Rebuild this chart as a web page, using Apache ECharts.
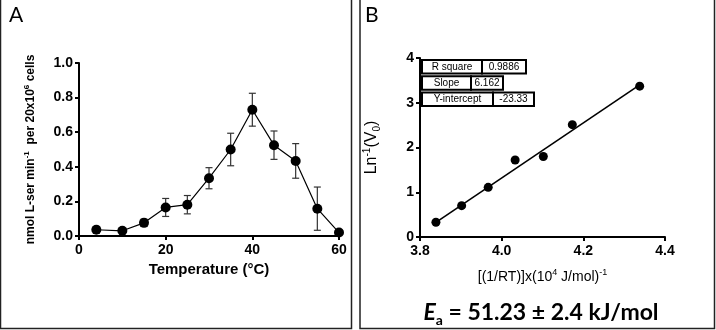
<!DOCTYPE html>
<html>
<head>
<meta charset="utf-8">
<script src="https://cdn.jsdelivr.net/npm/echarts@6/dist/echarts.min.js"></script>
<style>
  html, body { margin: 0; padding: 0; background: #fff; }
  #chart { width: 716px; height: 330px; }
</style>
</head>
<body>
<div id="chart"></div>
<script>
// panel A: rate vs temperature
let temps = [4, 10, 15, 20, 25, 30, 35, 40, 45, 50, 55, 60];
let rates = [0.036, 0.03, 0.076, 0.165, 0.181, 0.334, 0.50, 0.73, 0.525, 0.434, 0.158, 0.02];
let rateErr = [0.019, 0, 0.021, 0.052, 0.053, 0.061, 0.094, 0.095, 0.082, 0.10, 0.125, 0];

// panel B: arrhenius plot
let invRT = [3.839, 3.902, 3.967, 4.033, 4.102, 4.173, 4.338];
let lnV = [0.33, 0.70, 1.11, 1.72, 1.80, 2.51, 3.37];
let fitLabels = ['R square', 'Slope', 'Y-intercept'];
let fitValues = ['0.9886', '6.162', '-23.33'];
let slope = 6.162;
let intercept = -23.33;
let eaText = ' = 51.23 ± 2.4 kJ/mol';

let myChart = echarts.init(document.getElementById('chart'));

let pointsA = temps.map(function (t, i) { return [t, rates[i]]; });
let errA = temps.map(function (t, i) { return [t, rates[i], rateErr[i]]; });
let pointsB = invRT.map(function (x, i) { return [x, lnV[i]]; });
let xFirst = invRT[0], xLast = invRT[invRT.length - 1];
let fitLine = [[xFirst, slope * xFirst + intercept], [xLast, slope * xLast + intercept]];

let axisBase = {
  axisLine: { onZero: false, lineStyle: { color: '#000', width: 2 } },
  axisTick: { length: 4, lineStyle: { color: '#000', width: 2 } },
  splitLine: { show: false }
};
let tickFont = { color: '#000', fontFamily: 'Liberation Sans', fontWeight: 'bold', fontSize: 14 };

// table cells next to the y axis of B (label width, value width)
let cellW = [[60, 44], [49, 32], [71, 41]];
let tableGraphics = [];
let rowTop = 60;
for (let i = 0; i < fitLabels.length; i++) {
  let x0 = 422, w1 = cellW[i][0], w2 = cellW[i][1], h = 13.5;
  tableGraphics.push(
    { type: 'rect', shape: { x: x0, y: rowTop, width: w1, height: h }, style: { fill: '#fff', stroke: '#000', lineWidth: 2 }, z: 10 },
    { type: 'rect', shape: { x: x0 + w1, y: rowTop, width: w2, height: h }, style: { fill: '#fff', stroke: '#000', lineWidth: 2 }, z: 10 },
    { type: 'text', x: x0 + w1 / 2, y: rowTop + h / 2, z: 11,
      style: { text: fitLabels[i], align: 'center', verticalAlign: 'middle', fontFamily: 'Liberation Sans', fontSize: 10, fill: '#000' } },
    { type: 'text', x: x0 + w1 + w2 / 2, y: rowTop + h / 2, z: 11,
      style: { text: fitValues[i], align: 'center', verticalAlign: 'middle', fontFamily: 'Liberation Sans', fontSize: 10, fill: '#000' } }
  );
  rowTop += 16.3;
}

let option = {
  backgroundColor: '#fff',
  animation: false,
  grid: [
    { left: 79, top: 63, width: 260, height: 173 },
    { left: 420, top: 58, width: 245, height: 179 }
  ],
  xAxis: [
    Object.assign({}, axisBase, {
      gridIndex: 0, type: 'value', min: 0, max: 60, interval: 20,
      axisLabel: Object.assign({ margin: 7 }, tickFont),
      name: 'Temperature (°C)', nameLocation: 'middle', nameGap: 26,
      nameTextStyle: { color: '#000', fontFamily: 'Liberation Sans', fontWeight: 'bold', fontSize: 15 }
    }),
    Object.assign({}, axisBase, {
      gridIndex: 1, type: 'value', min: 3.8, max: 4.4, interval: 0.2,
      axisLabel: Object.assign({ margin: 7, formatter: function (v) { return v.toFixed(1); } }, tickFont),
      name: '{n|[(1/RT)]x(10}{sup|4}{n| J/mol)}{sup|-1}', nameLocation: 'middle', nameGap: 31,
      nameTextStyle: {
        rich: {
          n: { color: '#000', fontFamily: 'Liberation Sans', fontSize: 14, lineHeight: 18 },
          sup: { color: '#000', fontFamily: 'Liberation Sans', fontSize: 9, verticalAlign: 'top', lineHeight: 18 }
        }
      }
    })
  ],
  yAxis: [
    Object.assign({}, axisBase, {
      gridIndex: 0, type: 'value', min: 0, max: 1, interval: 0.2,
      axisLabel: Object.assign({ margin: 6, formatter: function (v) { return v.toFixed(1); } }, tickFont),
      name: '{n|nmol L-ser min}{sup|-1}{n|  per 20x10}{sup|6}{n| cells}', nameLocation: 'middle', nameGap: 41,
      nameTextStyle: {
        rich: {
          n: { color: '#000', fontFamily: 'Liberation Sans', fontWeight: 'bold', fontSize: 12, lineHeight: 15 },
          sup: { color: '#000', fontFamily: 'Liberation Sans', fontWeight: 'bold', fontSize: 8, verticalAlign: 'top', lineHeight: 15 }
        }
      }
    }),
    Object.assign({}, axisBase, {
      gridIndex: 1, type: 'value', min: 0, max: 4, interval: 1,
      axisLabel: Object.assign({ margin: 6 }, tickFont),
      name: '{n|Ln}{sup|-1}{n|(V}{sub|0}{n|)}', nameLocation: 'middle', nameGap: 38,
      nameTextStyle: {
        rich: {
          n: { color: '#000', fontFamily: 'Liberation Sans', fontSize: 16, lineHeight: 20 },
          sup: { color: '#000', fontFamily: 'Liberation Sans', fontSize: 10, verticalAlign: 'top', lineHeight: 20 },
          sub: { color: '#000', fontFamily: 'Liberation Sans', fontSize: 10, verticalAlign: 'bottom', lineHeight: 20 }
        }
      }
    })
  ],
  series: [
    {
      name: 'errA',
      type: 'custom',
      xAxisIndex: 0, yAxisIndex: 0,
      z: 1,
      renderItem: function (params, api) {
        let x = api.value(0), y = api.value(1), e = api.value(2);
        if (!e) return;
        let top = api.coord([x, y + e]);
        let bot = api.coord([x, y - e]);
        let hw = 3.5;
        let st = { stroke: '#333', lineWidth: 1.2 };
        return {
          type: 'group',
          children: [
            { type: 'line', shape: { x1: top[0], y1: top[1], x2: bot[0], y2: bot[1] }, style: st },
            { type: 'line', shape: { x1: top[0] - hw, y1: top[1], x2: top[0] + hw, y2: top[1] }, style: st },
            { type: 'line', shape: { x1: bot[0] - hw, y1: bot[1], x2: bot[0] + hw, y2: bot[1] }, style: st }
          ]
        };
      },
      data: errA
    },
    {
      name: 'rateA',
      type: 'line',
      xAxisIndex: 0, yAxisIndex: 0,
      z: 3,
      symbol: 'circle',
      symbolSize: 10,
      lineStyle: { color: '#000', width: 1.2 },
      itemStyle: { color: '#000' },
      data: pointsA
    },
    {
      name: 'fitB',
      type: 'line',
      xAxisIndex: 1, yAxisIndex: 1,
      symbol: 'none',
      lineStyle: { color: '#000', width: 1.6 },
      data: fitLine
    },
    {
      name: 'pointsB',
      type: 'scatter',
      xAxisIndex: 1, yAxisIndex: 1,
      symbolSize: 9,
      itemStyle: { color: '#000', opacity: 1 },
      data: pointsB
    }
  ],
  graphic: [
    { type: 'rect', shape: { x: 0.5, y: -2, width: 351, height: 330.5 }, style: { fill: 'none', stroke: '#222', lineWidth: 1.5 } },
    { type: 'rect', shape: { x: 360, y: -2, width: 354.5, height: 330.5 }, style: { fill: 'none', stroke: '#222', lineWidth: 1.5 } },
    { type: 'text', x: 9, y: 5, style: { text: 'A', fontFamily: 'Lato', fontSize: 21, fill: '#000' } },
    { type: 'text', x: 365, y: 5, style: { text: 'B', fontFamily: 'Lato', fontSize: 21, fill: '#000' } },
    {
      type: 'text', x: 541, y: 313,
      style: {
        text: '{e|E}{s|a}{n|' + eaText + '}',
        align: 'center', verticalAlign: 'middle',
        rich: {
          e: { fontFamily: 'Lato', fontWeight: 'bold', fontStyle: 'italic', fontSize: 23, fill: '#000', lineHeight: 28 },
          s: { fontFamily: 'Lato', fontWeight: 'bold', fontSize: 14, fill: '#000', verticalAlign: 'bottom', lineHeight: 28 },
          n: { fontFamily: 'Lato', fontWeight: 'bold', fontSize: 23, fill: '#000', lineHeight: 28 }
        }
      }
    }
  ].concat(tableGraphics)
};
myChart.setOption(option);
</script>
</body>
</html>
